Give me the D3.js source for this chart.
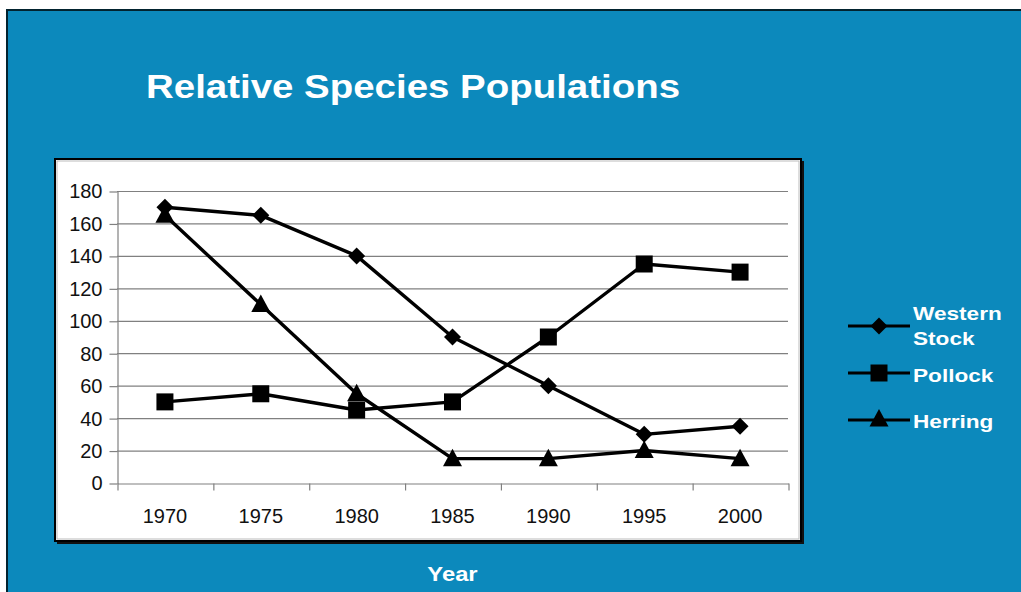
<!DOCTYPE html>
<html>
<head>
<meta charset="utf-8">
<script src="https://cdn.jsdelivr.net/npm/d3@7"></script>
<style>
  html, body { margin: 0; padding: 0; background: white; }
  svg { display: block; }
</style>
</head>
<body>
<div id="container"></div>
<script>
const years = ["1970", "1975", "1980", "1985", "1990", "1995", "2000"];
const westernStock = [170, 165, 140, 90, 60, 30, 35];
const pollock = [50, 55, 45, 50, 90, 135, 130];
const herring = [165, 110, 55, 15, 15, 20, 15];
const yTicks = [0, 20, 40, 60, 80, 100, 120, 140, 160, 180];

const series = [
  { name: ["Western", "Stock"], values: westernStock, shape: "diamond" },
  { name: ["Pollock"], values: pollock, shape: "square" },
  { name: ["Herring"], values: herring, shape: "triangle" },
];

const w = 1021;
const h = 592;
const blue = "rgb(12, 137, 188)";
const labelFont = "'Liberation Sans', Arial, sans-serif";
const stretch = 1.19; // the white labels are drawn a little wide

const svg = d3
  .select("#container")
  .append("svg")
  .attr("width", w)
  .attr("height", h)
  .attr("viewBox", `0 0 ${w} ${h}`);

// blue panel with dark top/left edge
svg.append("rect")
  .attr("x", 6).attr("y", 9)
  .attr("width", w).attr("height", h)
  .attr("fill", "#02232f");
svg.append("rect")
  .attr("x", 8).attr("y", 11)
  .attr("width", w).attr("height", h)
  .attr("fill", blue);

// plot box
svg.append("rect")
  .attr("x", 57).attr("y", 161)
  .attr("width", 747).attr("height", 383)
  .attr("fill", "#111");
svg.append("rect")
  .attr("x", 55).attr("y", 159)
  .attr("width", 746).attr("height", 382)
  .attr("fill", "white")
  .attr("stroke", "#000")
  .attr("stroke-width", 2);
svg.append("rect")
  .attr("x", 57).attr("y", 161)
  .attr("width", 742).attr("height", 378)
  .attr("fill", "none")
  .attr("stroke", "#bbb")
  .attr("stroke-width", 1);

const plotLeft = 117, plotRight = 788, plotTop = 191, plotBottom = 483;

const x = d3.scaleBand().domain(years).range([plotLeft, plotRight]);
const xEdges = d3.scaleLinear().domain([0, years.length]).range([plotLeft, plotRight]);
const y = d3.scaleLinear().domain([0, 180]).range([plotBottom, plotTop]);

// gridlines
svg.append("g")
  .selectAll("line")
  .data(yTicks.filter((d) => d > 0))
  .enter()
  .append("line")
  .attr("x1", plotLeft)
  .attr("x2", plotRight)
  .attr("y1", (d) => y(d) + 0.5)
  .attr("y2", (d) => y(d) + 0.5)
  .attr("stroke", "#808080")
  .attr("stroke-width", 1.2);

// y axis
const yAxis = svg.append("g")
  .attr("transform", `translate(${plotLeft + 0.5}, 0.5)`)
  .call(d3.axisLeft(y).tickValues(yTicks).tickSize(8).tickPadding(7).tickSizeOuter(0));
yAxis.selectAll("path, line").attr("stroke", "#808080").attr("stroke-width", 1.2);
yAxis.selectAll("text")
  .attr("font-family", labelFont)
  .attr("font-size", 20)
  .attr("fill", "#111");

// x axis: tick marks between categories
const xTickAxis = svg.append("g")
  .attr("transform", `translate(0.5, ${plotBottom + 0.5})`)
  .call(d3.axisBottom(xEdges).tickValues(d3.range(years.length + 1)).tickFormat("").tickSize(7).tickSizeOuter(0));
xTickAxis.selectAll("path, line").attr("stroke", "#808080").attr("stroke-width", 1.2);

// x axis labels
const xLabelAxis = svg.append("g")
  .attr("transform", `translate(0, ${plotBottom})`)
  .call(d3.axisBottom(x).tickSize(0).tickPadding(26));
xLabelAxis.select(".domain").remove();
xLabelAxis.selectAll("text")
  .attr("font-family", labelFont)
  .attr("font-size", 20)
  .attr("fill", "#111");

function markerPath(shape) {
  if (shape === "diamond") return "M0,-8.5L8.5,0L0,8.5L-8.5,0Z";
  if (shape === "square") return "M-8.5,-8.5H8.5V8.5H-8.5Z";
  return "M0,-10L9.5,7.5H-9.5Z";
}

const line = d3.line()
  .x((d, i) => x(years[i]) + x.bandwidth() / 2)
  .y((d) => y(d));

series.forEach((s) => {
  svg.append("path")
    .datum(s.values)
    .attr("d", line)
    .attr("fill", "none")
    .attr("stroke", "#000")
    .attr("stroke-width", 3.4)
    .attr("stroke-linejoin", "round");
});

series.forEach((s) => {
  svg.append("g")
    .selectAll("path")
    .data(s.values)
    .enter()
    .append("path")
    .attr("d", markerPath(s.shape))
    .attr("transform", (d, i) => `translate(${x(years[i]) + x.bandwidth() / 2}, ${y(d)})`)
    .attr("fill", "#000");
});

function wideText(px, py, size, str, anchor) {
  return svg.append("text")
    .attr("transform", `translate(${px}, ${py}) scale(${stretch}, 1)`)
    .attr("text-anchor", anchor || "start")
    .attr("font-family", labelFont)
    .attr("font-weight", "bold")
    .attr("font-size", size)
    .attr("fill", "white")
    .text(str);
}

// title
wideText(146, 98, 32.3, "Relative Species Populations");

// axis title
wideText((plotLeft + plotRight) / 2, 581, 20, "Year", "middle");

// legend
const legendY = [326, 373, 420];
const legendTextY = [[320, 345], [382], [428]];
series.forEach((s, i) => {
  svg.append("line")
    .attr("x1", 848).attr("x2", 910)
    .attr("y1", legendY[i]).attr("y2", legendY[i])
    .attr("stroke", "#000").attr("stroke-width", 3);
  svg.append("path")
    .attr("d", markerPath(s.shape))
    .attr("transform", `translate(879, ${legendY[i] + (s.shape === "triangle" ? -1 : 0)})`)
    .attr("fill", "#000");
  s.name.forEach((t, j) => {
    wideText(913, legendTextY[i][j], 19, t);
  });
});
</script>
</body>
</html>
